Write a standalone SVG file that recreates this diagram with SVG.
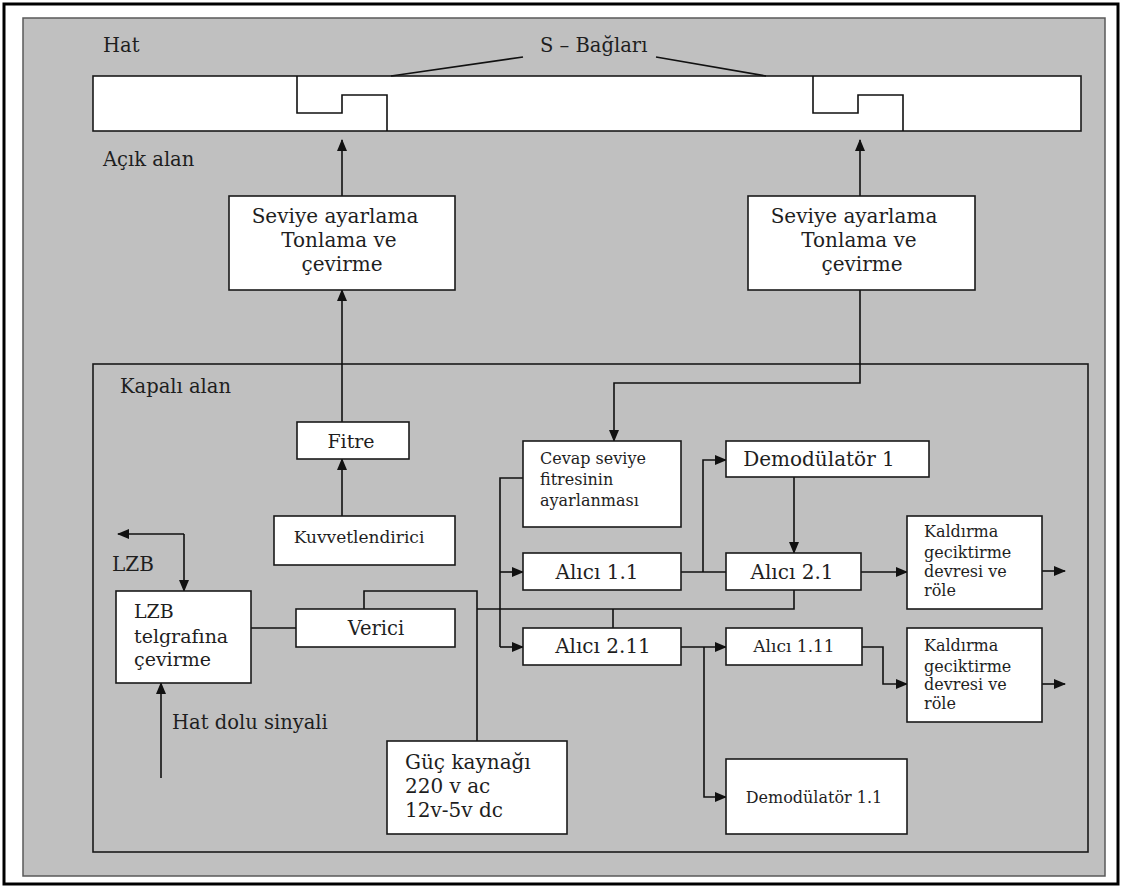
<svg xmlns="http://www.w3.org/2000/svg" width="1126" height="889" viewBox="0 0 1126 889">
  <defs>
    <style>
      .box { fill: #ffffff; stroke: #1a1a1a; stroke-width: 1.6; }
      .wire { fill: none; stroke: #111111; stroke-width: 1.6; }
      .arr { marker-end: url(#head); }
      text { font-family: "DejaVu Serif", "Liberation Serif", serif; fill: #1e1e1e; }
      .lbl { font-size: 19.5px; }
      .t20 { font-size: 20px; }
      .t19 { font-size: 19px; }
      .t17 { font-size: 17px; }
      .t16 { font-size: 16px; }
      .mid { text-anchor: middle; }
    </style>
    <marker id="head" markerWidth="12" markerHeight="10" refX="11" refY="5" orient="auto" markerUnits="userSpaceOnUse">
      <path d="M0,0 L12,5 L0,10 Z" fill="#111111"/>
    </marker>
  </defs>

  <!-- page frame and background -->
  <rect x="4" y="4" width="1114" height="880" fill="#ffffff" stroke="#000000" stroke-width="3"/>
  <rect x="23" y="18" width="1082" height="858" fill="#c0c0c0" stroke="#5a5a5a" stroke-width="1.5"/>
  <rect x="93" y="364" width="995" height="488" fill="none" stroke="#1a1a1a" stroke-width="1.6"/>

  <!-- area labels -->
  <text class="lbl" x="103" y="52">Hat</text>
  <text class="lbl" x="540" y="52">S – Bağları</text>
  <text class="lbl" x="103" y="166">Açık alan</text>
  <text class="lbl" x="120" y="393">Kapalı alan</text>
  <text class="t20" x="112" y="571">LZB</text>
  <text class="lbl" x="172" y="729">Hat dolu sinyali</text>

  <!-- track with S-bonds -->
  <g id="track">
    <rect x="93" y="76" width="988" height="55" fill="#ffffff" stroke="#1a1a1a" stroke-width="1.6"/>
    <polyline class="wire" points="297,76 297,113 342,113 342,95 387,95 387,131"/>
    <polyline class="wire" points="813,76 813,113 858,113 858,95 903,95 903,131"/>
    <line class="wire" x1="391" y1="76" x2="523" y2="57"/>
    <line class="wire" x1="656" y1="57" x2="766" y2="76"/>
  </g>

  <!-- connectors -->
  <g id="connectors">
    <line class="wire arr" x1="342" y1="196" x2="342" y2="140"/>
    <line class="wire arr" x1="860" y1="196" x2="860" y2="140"/>
    <line class="wire arr" x1="342" y1="422" x2="342" y2="290"/>
    <line class="wire arr" x1="342" y1="516" x2="342" y2="459"/>
    <polyline class="wire arr" points="860,290 860,383 614,383 614,441"/>
    <!-- LZB bidirectional link -->
    <polyline class="wire arr" points="184,534 184,591"/>
    <line class="wire arr" x1="184" y1="534" x2="118" y2="534"/>
    <line class="wire arr" x1="161" y1="778" x2="161" y2="683"/>
    <!-- LZB to Verici -->
    <line class="wire" x1="251" y1="628" x2="296" y2="628"/>
    <!-- Verici to power supply and receiver bus -->
    <polyline class="wire" points="364,609 364,591 477,591 477,741"/>
    <polyline class="wire" points="477,609 794,609 794,590"/>
    <line class="wire" x1="613" y1="609" x2="613" y2="628"/>
    <!-- Cevap feed bus -->
    <polyline class="wire" points="523,478 500,478 500,647"/>
    <line class="wire arr" x1="500" y1="572" x2="523" y2="572"/>
    <line class="wire arr" x1="500" y1="647" x2="523" y2="647"/>
    <!-- Alıcı 1.1 chain -->
    <line class="wire" x1="681" y1="572" x2="726" y2="572"/>
    <polyline class="wire arr" points="703,572 703,460 726,460"/>
    <line class="wire arr" x1="794" y1="477" x2="794" y2="553"/>
    <line class="wire arr" x1="861" y1="572" x2="907" y2="572"/>
    <line class="wire arr" x1="1042" y1="571" x2="1065" y2="571"/>
    <!-- Alıcı 2.11 chain -->
    <line class="wire arr" x1="681" y1="647" x2="726" y2="647"/>
    <polyline class="wire arr" points="704,647 704,797 726,797"/>
    <polyline class="wire arr" points="862,647 883,647 883,684 907,684"/>
    <line class="wire arr" x1="1042" y1="684" x2="1065" y2="684"/>
  </g>

  <g id="seviye-left">
    <rect class="box" x="229" y="196" width="226" height="94"/>
    <text class="t20 mid" x="335" y="223">Seviye ayarlama</text>
    <text class="t20 mid" x="339" y="247">Tonlama ve</text>
    <text class="t20 mid" x="342" y="271">çevirme</text>
  </g>
  <g id="seviye-right">
    <rect class="box" x="748" y="196" width="227" height="94"/>
    <text class="t20 mid" x="854" y="223">Seviye ayarlama</text>
    <text class="t20 mid" x="859" y="247">Tonlama ve</text>
    <text class="t20 mid" x="862" y="271">çevirme</text>
  </g>
  <g id="fitre">
    <rect class="box" x="297" y="422" width="112" height="37"/>
    <text class="t19 mid" x="351" y="448">Fitre</text>
  </g>
  <g id="kuvvetlendirici">
    <rect class="box" x="274" y="516" width="181" height="49"/>
    <text class="t17 mid" x="359" y="543">Kuvvetlendirici</text>
  </g>
  <g id="lzb">
    <rect class="box" x="116" y="591" width="135" height="92"/>
    <text class="t19" x="134" y="618">LZB</text>
    <text class="t19" x="134" y="643">telgrafına</text>
    <text class="t19" x="134" y="666">çevirme</text>
  </g>
  <g id="verici">
    <rect class="box" x="296" y="609" width="159" height="38"/>
    <text class="lbl mid" x="376" y="635">Verici</text>
  </g>
  <g id="guc">
    <rect class="box" x="387" y="741" width="180" height="93"/>
    <text class="t20" x="405" y="769">Güç kaynağı</text>
    <text class="t20" x="405" y="793">220 v ac</text>
    <text class="t20" x="405" y="817">12v-5v dc</text>
  </g>
  <g id="cevap">
    <rect class="box" x="523" y="441" width="158" height="86"/>
    <text class="t16" x="540" y="464">Cevap seviye</text>
    <text class="t16" x="540" y="485">fitresinin</text>
    <text class="t16" x="540" y="506">ayarlanması</text>
  </g>
  <g id="demod1">
    <rect class="box" x="726" y="441" width="203" height="36"/>
    <text class="t20 mid" x="819" y="466">Demodülatör 1</text>
  </g>
  <g id="alici11">
    <rect class="box" x="523" y="553" width="158" height="37"/>
    <text class="t20 mid" x="597" y="579">Alıcı 1.1</text>
  </g>
  <g id="alici21">
    <rect class="box" x="726" y="553" width="135" height="37"/>
    <text class="t20 mid" x="792" y="579">Alıcı 2.1</text>
  </g>
  <g id="kaldirma1">
    <rect class="box" x="907" y="516" width="135" height="93"/>
    <text class="t16" x="924" y="537">Kaldırma</text>
    <text class="t16" x="924" y="558">geciktirme</text>
    <text class="t16" x="924" y="577">devresi ve</text>
    <text class="t16" x="924" y="596">röle</text>
  </g>
  <g id="alici211">
    <rect class="box" x="523" y="628" width="158" height="37"/>
    <text class="t20 mid" x="603" y="653">Alıcı 2.11</text>
  </g>
  <g id="alici111">
    <rect class="box" x="726" y="628" width="136" height="37"/>
    <text class="t17 mid" x="794" y="652">Alıcı 1.11</text>
  </g>
  <g id="kaldirma2">
    <rect class="box" x="907" y="628" width="135" height="94"/>
    <text class="t16" x="924" y="651">Kaldırma</text>
    <text class="t16" x="924" y="672">geciktirme</text>
    <text class="t16" x="924" y="690">devresi ve</text>
    <text class="t16" x="924" y="709">röle</text>
  </g>
  <g id="demod11">
    <rect class="box" x="726" y="759" width="181" height="75"/>
    <text class="t16 mid" x="814" y="803">Demodülatör 1.1</text>
  </g>
</svg>
